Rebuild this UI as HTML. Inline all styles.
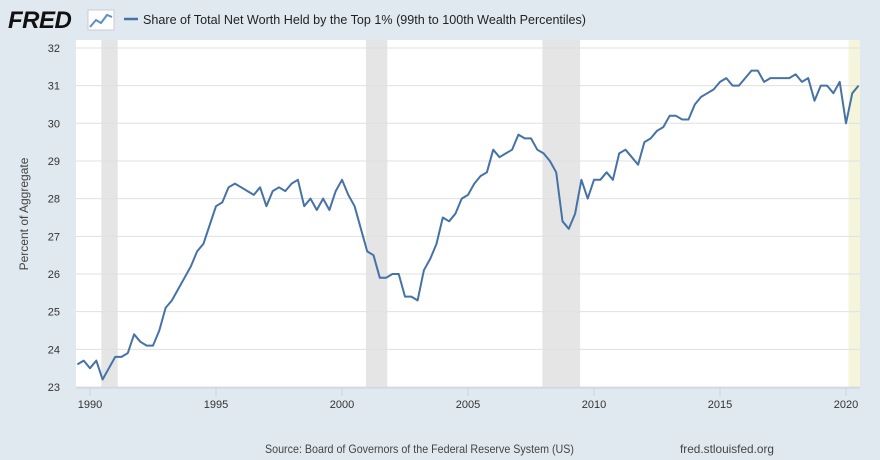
<!DOCTYPE html>
<html><head><meta charset="utf-8"><style>
body{margin:0;width:880px;height:460px;background:#e1e9f0;font-family:"Liberation Sans",sans-serif;overflow:hidden;position:relative}
</style></head><body>
<svg width="880" height="460" style="position:absolute;left:0;top:0">
<g>
<text x="8" y="28" font-size="24" font-weight="bold" fill="#111" font-style="italic" letter-spacing="-0.5">FRED</text>
<rect x="88" y="10" width="26" height="20" fill="#fff" stroke="#ccc"/>
<polyline points="90,27 96,20 101,23 107,15 112,17" fill="none" stroke="#5b8fc5" stroke-width="2"/>
</g>
<line x1="124" y1="19" x2="138" y2="19" stroke="#4572a7" stroke-width="2.5"/>
<text x="143" y="24" font-size="13" fill="#222" textLength="443" lengthAdjust="spacingAndGlyphs">Share of Total Net Worth Held by the Top 1% (99th to 100th Wealth Percentiles)</text>
<rect x="76" y="40" width="784" height="348" fill="#fff"/>
<g id="rec"></g><g id="grid"></g><g id="axes"></g><g id="series"></g>
<text transform="translate(28,214) rotate(-90)" text-anchor="middle" font-size="12" fill="#444">Percent of Aggregate</text>
<text x="265" y="453" font-size="12" fill="#444" textLength="309" lengthAdjust="spacingAndGlyphs">Source: Board of Governors of the Federal Reserve System (US)</text>
<text x="680" y="453" font-size="12" fill="#444" textLength="94" lengthAdjust="spacingAndGlyphs">fred.stlouisfed.org</text>
</svg>
<script>
const startYear = 1989.5;
const values = [23.6,23.7,
23.5,23.7,23.2,23.5, 23.8,23.8,23.9,24.4, 24.2,24.1,24.1,24.5, 25.1,25.3,25.6,25.9, 26.2,26.6,26.8,27.3,
27.8,27.9,28.3,28.4, 28.3,28.2,28.1,28.3, 27.8,28.2,28.3,28.2, 28.4,28.5,27.8,28.0, 27.7,28.0,27.7,28.2,
28.5,28.1,27.8,27.2, 26.6,26.5,25.9,25.9, 26.0,26.0,25.4,25.4, 25.3,26.1,26.4,26.8, 27.5,27.4,27.6,28.0,
28.1,28.4,28.6,28.7, 29.3,29.1,29.2,29.3, 29.7,29.6,29.6,29.3, 29.2,29.0,28.7,27.4, 27.2,27.6,28.5,28.0,
28.5,28.5,28.7,28.5, 29.2,29.3,29.1,28.9, 29.5,29.6,29.8,29.9, 30.2,30.2,30.1,30.1, 30.5,30.7,30.8,30.9,
31.1,31.2,31.0,31.0, 31.2,31.4,31.4,31.1, 31.2,31.2,31.2,31.2, 31.3,31.1,31.2,30.6, 31.0,31.0,30.8,31.1,
30.0,30.8,31.0];
const yTicks = [23,24,25,26,27,28,29,30,31,32];
const xTicks = [1990,1995,2000,2005,2010,2015,2020];
const recStarts = [1990.45,2000.95,2007.95,2020.1];
const recEnds = [1991.1,2001.8,2009.45,2020.6];
const NS="http://www.w3.org/2000/svg";
const X=t=>90+(t-1990)*25.2;
const Y=v=>387-(v-23)*37.67;
function mk(tag,attrs,parent){const e=document.createElementNS(NS,tag);for(const k in attrs)e.setAttribute(k,attrs[k]);document.getElementById(parent).appendChild(e);return e;}
recStarts.forEach((s,i)=>{const x1=X(s),x2=Math.min(X(recEnds[i]),860);
const r=mk('rect',{x:x1,y:40,width:x2-x1,height:348,fill:i==3?'#f5f5dc':'#e5e5e5'},'rec');

});
yTicks.forEach(v=>{const l=mk('line',{x1:76,x2:860,y1:Y(v),y2:Y(v),stroke:'#e0e0e0','stroke-width':1},'grid');


const t=mk('text',{x:60,y:Y(v)+4,'text-anchor':'end','font-size':11,fill:'#333'},'axes');t.textContent=v;

});
const ax=mk('line',{x1:76,x2:860,y1:388,y2:388,stroke:'#c6d1e2','stroke-width':1},'axes');


xTicks.forEach(y=>{const l=mk('line',{x1:X(y),x2:X(y),y1:388,y2:396,stroke:'#c6d1e2'},'axes');


const t=mk('text',{x:X(y),y:408,'text-anchor':'middle','font-size':11,fill:'#333'},'axes');t.textContent=y;

});
const pts=values.map((v,i)=>X(startYear+i*0.25).toFixed(1)+','+Y(v).toFixed(1)).join(' ');
const p=mk('polyline',{points:pts,fill:'none',stroke:'#4572a7','stroke-width':2,'stroke-linejoin':'round'},'series');


</script>
</body></html>
